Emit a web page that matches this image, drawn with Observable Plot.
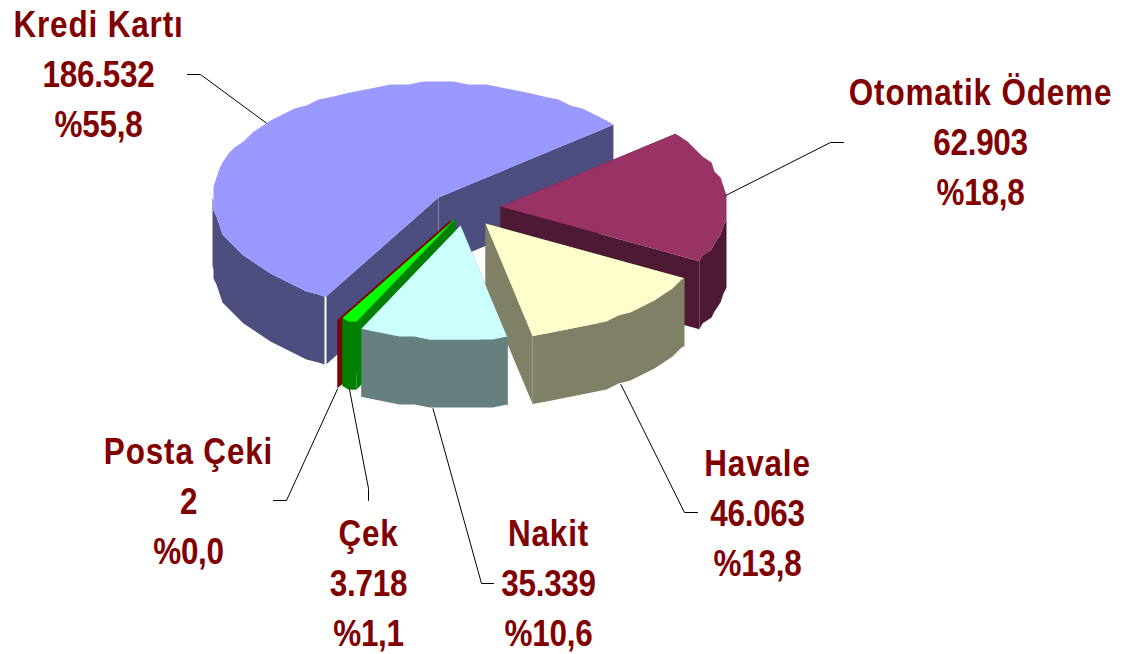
<!DOCTYPE html>
<html><head><meta charset="utf-8">
<style>html,body{margin:0;padding:0;background:#fff}</style>
<script src="https://cdn.jsdelivr.net/npm/d3@7"></script>
<script src="https://cdn.jsdelivr.net/npm/@observablehq/plot@0.6"></script>
</head><body><script>
// Data (in angular order round the pie)
const categories = ["Kredi Kartı","Otomatik Ödeme","Havale","Nakit","Çek","Posta Çeki"];
const values = [186532,62903,46063,35339,3718,2];
const valueLabels = ["186.532","62.903","46.063","35.339","3.718","2"];
const percentLabels = ["%55,8","%18,8","%13,8","%10,6","%1,1","%0,0"];
const topColors = ["#9999FF","#993366","#FFFFCC","#CCFFFF","#00FF00","#800000"];
const wallColors = ["#4D4D80","#4D1933","#808066","#668080","#008000","#800000"];
// Layout: paint order, exploded apex of each slice, label centre, leader elbow
const paintOrder = ["Kredi Kartı","Otomatik Ödeme","Havale","Posta Çeki","Çek","Nakit"];
const apexX = {"Kredi Kartı":438,"Otomatik Ödeme":500,"Havale":485,"Nakit":460,"Çek":455,"Posta Çeki":450};
const apexY = {"Kredi Kartı":197,"Otomatik Ödeme":206,"Havale":223,"Nakit":225,"Çek":218,"Posta Çeki":220};
const labelX = {"Kredi Kartı":98,"Otomatik Ödeme":980,"Havale":757,"Nakit":548,"Çek":368,"Posta Çeki":188};
const labelTop = {"Kredi Kartı":37,"Otomatik Ödeme":105,"Havale":476,"Nakit":546,"Çek":546,"Posta Çeki":464};
const elbowA = {"Kredi Kartı":[200,74],"Otomatik Ödeme":[830,142],"Havale":[684,512],"Nakit":[481,583],"Çek":[368,488],"Posta Çeki":[286,500]};
const elbowB = {"Kredi Kartı":[187,74],"Otomatik Ödeme":[843,142],"Havale":[697,512],"Nakit":[493,583],"Çek":[368,500],"Posta Çeki":[273,500]};

const RX = 226, RY = 115, DEPTH = 68, START = 210, LH = 50, SNAP = 3, STEP = 4;
const total = d3.sum(values);
const rad = a => a*Math.PI/180;
let cursor = START;
const slices = categories.map((name,i)=>{
  const a0 = cursor, a1 = cursor + values[i]/total*360; cursor = a1;
  return {name,i,a0,a1,cx:apexX[name],cy:apexY[name]};
});
const rim = (s,a,d=0)=>({x:s.cx+RX*Math.sin(rad(a)),y:s.cy-RY*Math.cos(rad(a))+d});
const snap = p => ({x:Math.round(p.x/SNAP)*SNAP,y:Math.round(p.y/SNAP)*SNAP});
// coarse rim outline on a shared angle grid, as in the low-resolution source rendering
function arc(s,a0,a1,d=0){
  const out=[rim(s,a0,d)];
  for(let a=Math.ceil(a0/STEP+1e-6)*STEP;a<a1-1e-6;a+=STEP){
    const p=snap(rim(s,a));
    out.push({x:p.x,y:p.y+d});
  }
  out.push(rim(s,a1,d));
  return out;
}
const marks=[];
const face=(pts,fill)=>marks.push(Plot.line(pts,{x:"x",y:"y",fill,stroke:"none",curve:"linear-closed"}));
for(const name of paintOrder){
  const s=slices[categories.indexOf(name)];
  const apex={x:s.cx,y:s.cy}, apexD={x:s.cx,y:s.cy+DEPTH};
  const wall=a=>{const p=rim(s,a),q=rim(s,a,DEPTH);face([apex,p,q,apexD],wallColors[s.i]);};
  wall(s.a0); wall(s.a1);
  for(const base of [0,360]){
    const lo=Math.max(s.a0,90+base), hi=Math.min(s.a1,270+base);
    if(hi>lo) face([...arc(s,lo,hi),...arc(s,lo,hi,DEPTH).reverse()],wallColors[s.i]);
  }
  if(s.i===0){ // seams on the large slice, under the slices in front of it
    marks.push(Plot.line([rim(s,s.a0),rim(s,s.a0,DEPTH)],{x:"x",y:"y",stroke:"#fff",strokeWidth:2}));
    marks.push(Plot.line([apex,apexD],{x:"x",y:"y",stroke:"#8080A8",strokeWidth:1}));
  }
  face([apex,...arc(s,s.a0,s.a1)],topColors[s.i]);
}
// leaders
for(const s of slices){
  const mid=(s.a0+s.a1)/2%360;
  const front=mid>90&&mid<270;
  const p=rim(s,mid,front?DEPTH+1:0);
  marks.push(Plot.line([p,{x:elbowA[s.name][0],y:elbowA[s.name][1]},{x:elbowB[s.name][0],y:elbowB[s.name][1]}],{x:"x",y:"y",stroke:"#000",strokeWidth:1}));
}
// labels: tall, condensed bold lettering
const condensed=(spacing)=>(index,scales,values,dims,ctx,next)=>{
  const g=next(index,scales,values,dims,ctx);
  g.style.letterSpacing=spacing;
  g.querySelectorAll("text").forEach(t=>t.setAttribute("transform",(t.getAttribute("transform")||"")+" scale(0.85,1)"));
  return g;
};
const textOpts=spacing=>({x:"x",y:"y",text:"text",fill:"#800000",fontSize:37,fontWeight:"bold",fontFamily:"Liberation Sans",textAnchor:"middle",lineAnchor:"bottom",dy:-1,render:condensed(spacing)});
const nameLabels=slices.map(s=>({text:categories[s.i],x:labelX[s.name],y:labelTop[s.name]}));
const numLabels=slices.flatMap(s=>[valueLabels[s.i],percentLabels[s.i]].map((text,j)=>({text,x:labelX[s.name],y:labelTop[s.name]+(j+1)*LH})));
marks.push(Plot.text(nameLabels,textOpts("1px")));
marks.push(Plot.text(numLabels,textOpts("-0.3px")));

const chart=Plot.plot({width:1123,height:654,margin:0,
  x:{domain:[0,1123],range:[0,1123],axis:null},
  y:{domain:[0,654],range:[0,654],axis:null},
  style:{background:"#fff",display:"block"},
  marks});
document.body.appendChild(chart);
</script></body></html>
